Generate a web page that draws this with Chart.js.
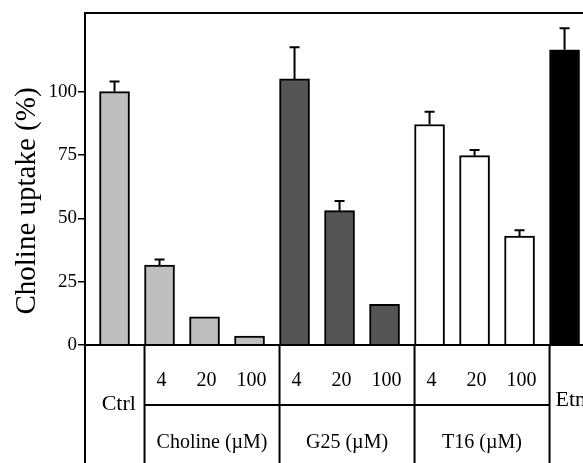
<!DOCTYPE html>
<html>
<head>
<meta charset="utf-8">
<script src="https://cdn.jsdelivr.net/npm/chart.js@4"></script>
<style>
  html, body { margin: 0; padding: 0; background: #fff; overflow: hidden; }
  #wrap { width: 583px; height: 463px; position: relative; }
</style>
</head>
<body>
<div id="wrap"><canvas id="chart"></canvas></div>
<script>
// data
const doses = ['', '4', '20', '100', '4', '20', '100', '4', '20', '100', ''];
const groupNames = ['Ctrl', 'Choline (\u00b5M)', 'G25 (\u00b5M)', 'T16 (\u00b5M)', 'Etn'];
const groupStart = [0, 1, 4, 7, 10];
const uptake = [100, 31.5, 11.1, 3.5, 105, 53, 16, 87, 74.7, 43, 116.5];
const uptakeErr = [4, 2.2, 0, 0, 12.5, 3.8, 0, 5, 2.2, 2.3, 8.5];
const yTicks = [0, 25, 50, 75, 100];

const groupColors = ['#bebebe', '#bebebe', '#555555', '#ffffff', '#000000'];
const barColors = uptake.map((v, i) => {
  let g = 0;
  groupStart.forEach((s, k) => { if (i >= s) g = k; });
  return groupColors[g];
});

const FONT = '"Liberation Serif", "Times New Roman", serif';
const BAR = 30;

const tablePlugin = {
  id: 'table',
  afterDraw(chart) {
    const { ctx, chartArea, scales } = chart;
    const { left, top, bottom } = chartArea;
    const H = chart.height, W = chart.width;
    const x = scales.x, y = scales.y;
    ctx.save();
    ctx.strokeStyle = '#000';
    ctx.fillStyle = '#000';

    // error bars
    const meta = chart.getDatasetMeta(0);
    ctx.lineWidth = 2;
    meta.data.forEach((bar, i) => {
      if (!uptakeErr[i]) return;
      const yt = y.getPixelForValue(uptake[i] + uptakeErr[i]);
      ctx.beginPath();
      ctx.moveTo(bar.x, bar.y);
      ctx.lineTo(bar.x, yt);
      ctx.moveTo(bar.x - 5, yt);
      ctx.lineTo(bar.x + 5, yt);
      ctx.stroke();
    });

    // frame
    ctx.lineWidth = 2;
    ctx.beginPath();
    ctx.moveTo(left, H);
    ctx.lineTo(left, top);
    ctx.lineTo(W, top);
    ctx.moveTo(left, bottom);
    ctx.lineTo(W, bottom);
    ctx.stroke();

    // category table under the axis
    const bounds = groupStart.map(s => x.getPixelForValue(s) - BAR / 2);
    bounds[0] = left;
    const rowY = 405;
    ctx.beginPath();
    for (let g = 1; g < bounds.length; g++) {
      ctx.moveTo(bounds[g], bottom);
      ctx.lineTo(bounds[g], H);
    }
    ctx.moveTo(bounds[1], rowY);
    ctx.lineTo(bounds[4], rowY);
    ctx.stroke();

    ctx.textBaseline = 'middle';
    ctx.textAlign = 'center';
    ctx.font = '20px ' + FONT;
    doses.forEach((d, i) => {
      if (d) ctx.fillText(d, x.getPixelForValue(i) + 2, 381);
    });
    for (let g = 1; g <= 3; g++) {
      ctx.fillText(groupNames[g], (bounds[g] + bounds[g + 1]) / 2, 443);
    }
    ctx.font = '22px ' + FONT;
    ctx.fillText(groupNames[0], (bounds[0] + bounds[1]) / 2 + 4, 404);
    ctx.textAlign = 'left';
    ctx.fillText(groupNames[4], bounds[4] + 6, 400);

    // y title
    ctx.translate(27, 201);
    ctx.rotate(-Math.PI / 2);
    ctx.textAlign = 'center';
    ctx.font = '29px ' + FONT;
    ctx.fillText('Choline uptake (%)', 0, 0);
    ctx.restore();
  }
};

new Chart(document.getElementById('chart'), {
  type: 'bar',
  data: {
    datasets: [{
      data: uptake.map((v, i) => ({ x: i, y: v })),
      backgroundColor: barColors,
      borderColor: '#000',
      borderWidth: 2,
      barThickness: BAR
    }]
  },
  options: {
    responsive: true,
    maintainAspectRatio: false,
    animation: false,
    layout: { padding: { top: 13, right: 0, bottom: 118, left: 0 } },
    plugins: { legend: { display: false }, tooltip: { enabled: false } },
    scales: {
      x: {
        type: 'linear',
        display: false,
        offset: false,
        min: -0.656,
        max: 10.41
      },
      y: {
        min: 0,
        max: 131,
        afterFit(scale) { scale.width = 85; },
        afterBuildTicks(scale) { scale.ticks = yTicks.map(v => ({ value: v })); },
        ticks: {
          padding: 1,
          color: '#000',
          font: { family: FONT, size: 19 }
        },
        grid: {
          drawOnChartArea: false,
          tickLength: 7,
          color: '#000',
          lineWidth: 1.5
        },
        border: { display: true, color: '#000', width: 2 }
      }
    }
  },
  plugins: [tablePlugin]
});
</script>
</body>
</html>
